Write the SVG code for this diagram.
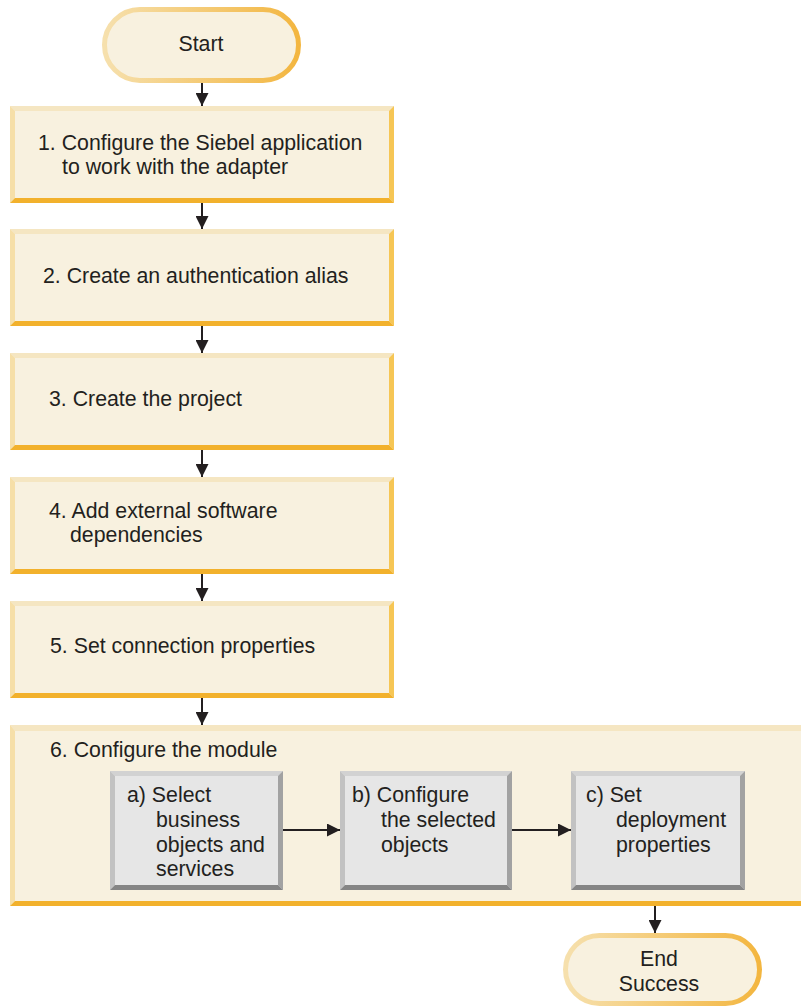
<svg xmlns="http://www.w3.org/2000/svg" width="801" height="1008" viewBox="0 0 801 1008">
<style>
text{font-family:"Liberation Sans",Arial,sans-serif;font-size:21.3px;fill:#231f20}
.fill{fill:#f8f1df}
.bt{fill:#f5e6c2}
.bl{fill:#f6dfa8}
.br{fill:#f6c655}
.bb{fill:#f2b12c}
.gfill{fill:#e6e6e6}
.gt{fill:#d2d2d2}
.gl{fill:#c2c2c2}
.gr{fill:#a2a2a2}
.gb{fill:#858585}
.pill{fill:#f8f1df;stroke:url(#pg);stroke-width:5}
.conn{stroke:#231f20;stroke-width:2;fill:none;marker-end:url(#ah)}
</style>
<defs>
<linearGradient id="pg" x1="0" y1="0" x2="1" y2="0">
<stop offset="0" stop-color="#f6e0ad"/>
<stop offset="1" stop-color="#f3b640"/>
</linearGradient>
<marker id="ah" markerUnits="userSpaceOnUse" markerWidth="13" markerHeight="13" refX="13" refY="6.5" orient="auto">
<path d="M0,0 L13,6.5 L0,13 z" fill="#231f20"/>
</marker>
</defs>
<rect width="801" height="1008" fill="#ffffff"/>
<g id="start">
<rect class="pill" x="104.5" y="9.5" width="194" height="71" rx="35.5"/>
<text x="201" y="51" text-anchor="middle">Start</text>
</g>
<g id="step1">
<rect class="fill" x="10" y="106" width="384" height="97"/>
<polygon class="bt" points="10,106 394,106 389,111 15,111"/>
<polygon class="bl" points="10,106 15,111 15,198 10,203"/>
<polygon class="br" points="394,106 394,203 389,198 389,111"/>
<polygon class="bb" points="10,203 15,198 389,198 394,203"/>
<text x="38" y="150">1. Configure the Siebel application</text>
<text x="62" y="174">to work with the adapter</text>
</g>
<g id="step2">
<rect class="fill" x="10" y="229" width="384" height="97"/>
<polygon class="bt" points="10,229 394,229 389,234 15,234"/>
<polygon class="bl" points="10,229 15,234 15,321 10,326"/>
<polygon class="br" points="394,229 394,326 389,321 389,234"/>
<polygon class="bb" points="10,326 15,321 389,321 394,326"/>
<text x="43" y="283">2. Create an authentication alias</text>
</g>
<g id="step3">
<rect class="fill" x="10" y="353" width="384" height="97"/>
<polygon class="bt" points="10,353 394,353 389,358 15,358"/>
<polygon class="bl" points="10,353 15,358 15,445 10,450"/>
<polygon class="br" points="394,353 394,450 389,445 389,358"/>
<polygon class="bb" points="10,450 15,445 389,445 394,450"/>
<text x="49" y="406">3. Create the project</text>
</g>
<g id="step4">
<rect class="fill" x="10" y="477" width="384" height="97"/>
<polygon class="bt" points="10,477 394,477 389,482 15,482"/>
<polygon class="bl" points="10,477 15,482 15,569 10,574"/>
<polygon class="br" points="394,477 394,574 389,569 389,482"/>
<polygon class="bb" points="10,574 15,569 389,569 394,574"/>
<text x="49" y="518">4. Add external software</text>
<text x="70" y="542">dependencies</text>
</g>
<g id="step5">
<rect class="fill" x="10" y="601" width="384" height="97"/>
<polygon class="bt" points="10,601 394,601 389,606 15,606"/>
<polygon class="bl" points="10,601 15,606 15,693 10,698"/>
<polygon class="br" points="394,601 394,698 389,693 389,606"/>
<polygon class="bb" points="10,698 15,693 389,693 394,698"/>
<text x="50" y="653">5. Set connection properties</text>
</g>
<g id="step6">
<rect class="fill" x="10" y="725" width="800" height="181"/>
<polygon class="bt" points="10,725 810,725 805,731 15,731"/>
<polygon class="bl" points="10,725 15,731 15,901 10,906"/>
<polygon class="bb" points="10,906 15,901 805,901 810,906"/>
<text x="50" y="757">6. Configure the module</text>
</g>
<g id="step6a">
<rect class="gfill" x="110" y="771" width="173" height="119"/>
<polygon class="gt" points="110,771 283,771 278,776 115,776"/>
<polygon class="gl" points="110,771 115,776 115,885 110,890"/>
<polygon class="gr" points="283,771 283,890 278,885 278,776"/>
<polygon class="gb" points="110,890 115,885 278,885 283,890"/>
<text x="127" y="802">a) Select</text>
<text x="156" y="827">business</text>
<text x="156" y="852">objects and</text>
<text x="156" y="876">services</text>
</g>
<g id="step6b">
<rect class="gfill" x="340" y="771" width="172" height="119"/>
<polygon class="gt" points="340,771 512,771 507,776 345,776"/>
<polygon class="gl" points="340,771 345,776 345,885 340,890"/>
<polygon class="gr" points="512,771 512,890 507,885 507,776"/>
<polygon class="gb" points="340,890 345,885 507,885 512,890"/>
<text x="352" y="802">b) Configure</text>
<text x="381" y="827">the selected</text>
<text x="381" y="852">objects</text>
</g>
<g id="step6c">
<rect class="gfill" x="571" y="771" width="174" height="119"/>
<polygon class="gt" points="571,771 745,771 740,776 576,776"/>
<polygon class="gl" points="571,771 576,776 576,885 571,890"/>
<polygon class="gr" points="745,771 745,890 740,885 740,776"/>
<polygon class="gb" points="571,890 576,885 740,885 745,890"/>
<text x="586" y="802">c) Set</text>
<text x="616" y="827">deployment</text>
<text x="616" y="852">properties</text>
</g>
<g id="end">
<rect class="pill" x="565.5" y="935.5" width="194" height="68" rx="34"/>
<text x="659" y="966" text-anchor="middle">End</text>
<text x="659" y="991" text-anchor="middle">Success</text>
</g>
<g id="connectors">
<line class="conn" x1="202" y1="83" x2="202" y2="106"/>
<line class="conn" x1="202" y1="203" x2="202" y2="229"/>
<line class="conn" x1="202" y1="326" x2="202" y2="353"/>
<line class="conn" x1="202" y1="450" x2="202" y2="477"/>
<line class="conn" x1="202" y1="574" x2="202" y2="601"/>
<line class="conn" x1="202" y1="698" x2="202" y2="725"/>
<line class="conn" x1="283" y1="830" x2="340" y2="830"/>
<line class="conn" x1="512" y1="830" x2="571" y2="830"/>
<line class="conn" x1="655" y1="906" x2="655" y2="933"/>
</g>
</svg>
